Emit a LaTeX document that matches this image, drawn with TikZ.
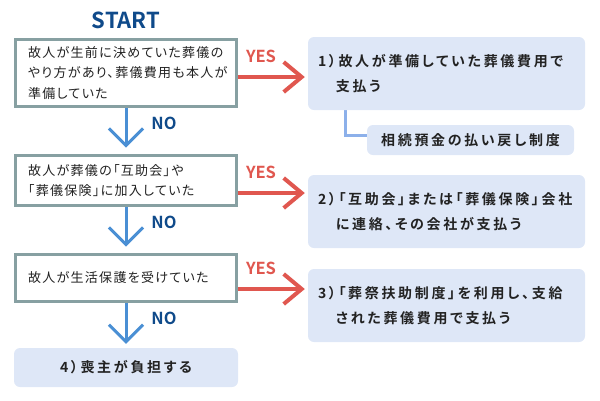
\documentclass[tikz,border=0pt]{standalone}
\usepackage{fontspec}
\setmainfont{Noto Sans CJK JP}[BoldFont={Noto Sans CJK JP Bold}]
\newfontfamily\askfont[RawFeature=+palt, LetterSpace=10]{Noto Sans CJK JP}
\newfontfamily\resfont[RawFeature=+palt, LetterSpace=19]{Noto Sans CJK JP Bold}
\usetikzlibrary{backgrounds,arrows.meta}
\definecolor{xframe}{RGB}{135,160,162}
\definecolor{xpale}{RGB}{222,231,247}
\definecolor{xred}{RGB}{224,87,79}
\definecolor{xblue}{RGB}{74,143,212}
\definecolor{xnavy}{RGB}{15,74,138}
\definecolor{xlink}{RGB}{140,176,234}
\definecolor{xtext}{RGB}{34,34,34}
\tikzset{
	ask/.style={draw=xframe, line width=3pt, fill=white, rectangle, text width=196pt, inner xsep=12.5pt, inner ysep=0pt, align=left, text=xtext, font=\askfont\fontsize{13}{20.5}\selectfont},
	answer/.style={fill=xpale, rectangle, rounded corners=6pt, text width=257pt, inner xsep=10pt, inner ysep=0pt, align=left, text=xtext, font=\resfont\fontsize{14}{25.5}\selectfont},
	yesarrow/.style={draw=xred, line width=4pt, -{Straight Barb[length=18pt, width=30pt]}, shorten >=3pt},
	noarrow/.style={draw=xblue, line width=3pt, -{Straight Barb[length=17pt, width=34pt]}},
	yeslabel/.style={text=xred, font=\bfseries\fontsize{16.5}{18}\selectfont, yshift=21pt},
	nolabel/.style={text=xnavy, font=\bfseries\fontsize{16.5}{18}\selectfont, xshift=38pt, yshift=7.5pt},
	subline/.style={draw=xlink, line width=3pt}
}
\begin{document}
\begin{tikzpicture}[x=1pt, y=-1pt]
	\useasboundingbox (0,0) rectangle (600,400);
	\def \ax {126}
	\def \rx {446.5}
	\node[text=xnavy, font=\bfseries\fontsize{22}{24}\selectfont] at (\ax, 20) (start) {START};
	% questions
	\node[ask, minimum height=67pt] at (\ax, 73) (q1) {故人が生前に決めていた葬儀の\\やり方があり、葬儀費用も本人が\\準備していた};
	\node[ask, minimum height=50pt] at (\ax, 180.5) (q2) {故人が葬儀の「互助会」や\\「葬儀保険」に加入していた};
	\node[ask, minimum height=47pt] at (\ax, 278) (q3) {故人が生活保護を受けていた};
	% answers
	\node[answer, minimum height=73pt] at (\rx, 73.5) (r1) {1）故人が準備していた葬儀費用で\\\hphantom{1）}支払う};
	\node[answer, minimum height=73pt] at (\rx, 211.5) (r2) {2）「互助会」または「葬儀保険」会社\\\hphantom{2）}に連絡、その会社が支払う};
	\node[answer, minimum height=73pt] at (\rx, 305.5) (r3) {3）「葬祭扶助制度」を利用し、支給\\\hphantom{3）}された葬儀費用で支払う};
	\node[answer, minimum height=39pt, text width=204pt, align=center] at (\ax, 367.5) (r4) {4）喪主が負担する};
	\node[answer, minimum height=30pt, text width=187pt, align=center] at (470.5, 140) (sub) {相続預金の払い戻し制度};
	\begin{scope}[on background layer]
		\draw[yesarrow] ([yshift=-4pt]q1.east) -- ([yshift=-4pt]q1.east -| r1.west) node[yeslabel, pos=0.33] {YES};
		\draw[yesarrow] ([yshift=-12.5pt]q2.east) -- ([yshift=-12.5pt]q2.east -| r2.west) node[yeslabel, pos=0.33] {YES};
		\draw[yesarrow] ([yshift=-11pt]q3.east) -- ([yshift=-11pt]q3.east -| r3.west) node[yeslabel, pos=0.33] {YES};
		\draw[noarrow, shorten >=6.5pt] (q1) -- node[nolabel] {NO} (q2);
		\draw[noarrow, shorten >=6.5pt] (q2) -- node[nolabel] {NO} (q3);
		\draw[noarrow, shorten >=4pt] (q3) -- node[nolabel] {NO} (r4);
		\draw[subline] ([xshift=-101.5pt]r1.south) |- ([yshift=5pt]sub.west);
	\end{scope}
\end{tikzpicture}
\end{document}
